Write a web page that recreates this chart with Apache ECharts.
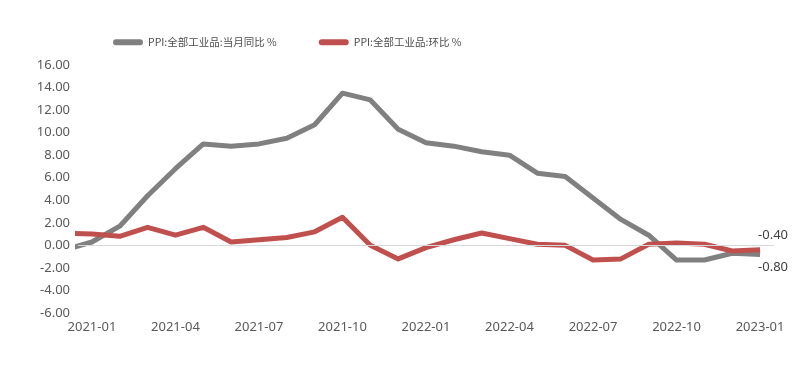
<!DOCTYPE html>
<html>
<head>
<meta charset="utf-8">
<script src="https://cdn.jsdelivr.net/npm/echarts@6/dist/echarts.min.js"></script>
<style>html,body{margin:0;padding:0;background:#fff}#c{width:800px;height:386px}</style>
</head>
<body>
<div id="c"></div>
<script>
var months = ['2020-12','2021-01','2021-02','2021-03','2021-04','2021-05','2021-06','2021-07','2021-08','2021-09','2021-10','2021-11','2021-12','2022-01','2022-02','2022-03','2022-04','2022-05','2022-06','2022-07','2022-08','2022-09','2022-10','2022-11','2022-12','2023-01'];
var yoy = [-0.4,0.3,1.7,4.4,6.8,9.0,8.8,9.0,9.5,10.7,13.5,12.9,10.3,9.1,8.8,8.3,8.0,6.4,6.1,4.2,2.3,0.9,-1.3,-1.3,-0.7,-0.8];
var mom = [1.1,1.0,0.8,1.6,0.9,1.6,0.3,0.5,0.7,1.2,2.5,0.0,-1.2,-0.2,0.5,1.1,0.6,0.1,0.0,-1.3,-1.2,0.1,0.2,0.1,-0.5,-0.4];
var tickLabels = ['2021-01','2021-04','2021-07','2021-10','2022-01','2022-04','2022-07','2022-10','2023-01'];
var seriesNames = ['PPI:全部工业品:当月同比 %','PPI:全部工业品:环比 %'];

var tickIdx = tickLabels.map(function(t){ return months.indexOf(t); });
function pairs(arr){ return arr.map(function(v,i){ return [i,v]; }); }
var numFont = '"Noto Sans", "Noto Sans CJK SC", sans-serif';
var icon = 'path://M3,0 H27 A3,3 0 0 1 27,6 H3 A3,3 0 0 1 3,0 Z';

var chart = echarts.init(document.getElementById('c'), null, {renderer:'canvas'});
chart.setOption({
  animation: false,
  backgroundColor: '#fff',
  legend: {
    left: 108, top: 32,
    itemWidth: 30, itemHeight: 6, itemGap: 42,
    textStyle: {fontFamily: '"Noto Sans CJK SC", sans-serif', fontSize: 10.5, color: '#4d4d4d'},
    data: [{name: seriesNames[0], icon: icon}, {name: seriesNames[1], icon: icon}]
  },
  grid: {left: 78, right: 26, top: 65, bottom: 73},
  xAxis: {
    type: 'value', min: 0.5, max: 25.5,
    axisLine: {show: false}, axisTick: {show: false}, splitLine: {show: false},
    axisLabel: {
      customValues: tickIdx, margin: 8,
      color: '#595959', fontFamily: numFont, fontSize: 13,
      formatter: function(v){ return months[Math.round(v)]; }
    }
  },
  yAxis: {
    type: 'value', min: -6, max: 16, interval: 2,
    axisLine: {show: false}, axisTick: {show: false}, splitLine: {show: false},
    axisLabel: {margin: 8, color: '#595959', fontFamily: numFont, fontSize: 13,
      formatter: function(v){ return v.toFixed(2); }}
  },
  series: [
    {
      name: seriesNames[0], type: 'line', data: pairs(yoy),
      showSymbol: false, symbol: 'none', clip: true,
      lineStyle: {color: '#808080', width: 5, join: 'round'},
      itemStyle: {color: '#808080'},
      endLabel: {show: true, offset: [-10, 13], color: '#404040', fontFamily: numFont, fontSize: 13,
        formatter: function(p){ return p.value[1].toFixed(2); }},
      markLine: {silent: true, symbol: 'none', label: {show: false},
        lineStyle: {color: '#d9d9d9', width: 1, type: 'solid'}, data: [{yAxis: 0}]},
      z: 2
    },
    {
      name: seriesNames[1], type: 'line', data: pairs(mom),
      showSymbol: false, symbol: 'none', clip: true,
      lineStyle: {color: '#c0504d', width: 5, join: 'round'},
      itemStyle: {color: '#c0504d'},
      endLabel: {show: true, offset: [-10, -15], color: '#404040', fontFamily: numFont, fontSize: 13,
        formatter: function(p){ return p.value[1].toFixed(2); }},
      z: 3
    }
  ]
});
</script>
</body>
</html>
